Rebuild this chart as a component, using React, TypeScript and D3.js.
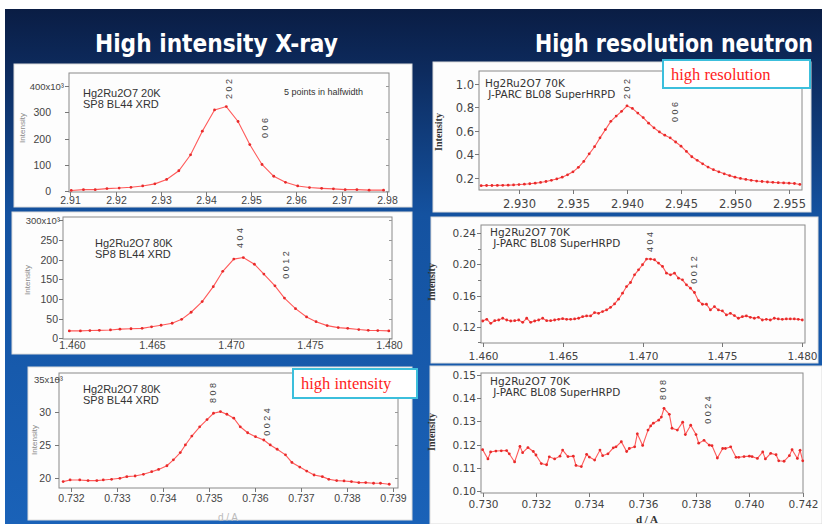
import { useEffect, useRef } from "react";
import * as d3 from "d3";

type Pt = [number, number];

// ---- peak profiles: d (Å), intensity ----
// X-ray, SP8 BL44, 20 K, 202 / 006 (10^3 counts)
const xray202: Pt[] = [
  [2.9102, 2], [2.9129, 5], [2.9155, 5], [2.9181, 9], [2.9208, 11], [2.9234, 14],
  [2.926, 19], [2.9287, 27], [2.9313, 44], [2.934, 77], [2.9366, 138], [2.9392, 228],
  [2.9419, 309], [2.9445, 322], [2.9471, 265], [2.9497, 177], [2.9524, 101], [2.955, 56],
  [2.9576, 33], [2.9603, 19], [2.9629, 13], [2.9656, 10], [2.9682, 8], [2.9708, 5],
  [2.9734, 5], [2.9761, 3], [2.9793, 3],
];

// neutron, J-PARC BL08 SuperHRPD, 70 K, 202 / 006
const neutron202: Pt[] = [
  [2.9265, 0.135], [2.927, 0.136], [2.9275, 0.136], [2.928, 0.137], [2.9285, 0.138],
  [2.929, 0.139], [2.9295, 0.141], [2.93, 0.144], [2.9305, 0.147], [2.931, 0.151],
  [2.9315, 0.156], [2.932, 0.162], [2.9325, 0.17], [2.933, 0.18], [2.9335, 0.192],
  [2.934, 0.207], [2.9345, 0.227], [2.935, 0.252], [2.9355, 0.29], [2.936, 0.34],
  [2.9365, 0.405], [2.937, 0.465], [2.9375, 0.54], [2.938, 0.61], [2.9385, 0.68],
  [2.939, 0.725], [2.9395, 0.765], [2.94, 0.812], [2.9405, 0.79], [2.941, 0.75],
  [2.9415, 0.712], [2.942, 0.665], [2.9425, 0.625], [2.943, 0.59], [2.9435, 0.563],
  [2.944, 0.54], [2.9445, 0.505], [2.945, 0.47], [2.9455, 0.425], [2.946, 0.38],
  [2.9465, 0.35], [2.947, 0.32], [2.9475, 0.292], [2.948, 0.27], [2.9485, 0.252],
  [2.949, 0.235], [2.9495, 0.22], [2.95, 0.207], [2.9505, 0.196], [2.951, 0.188],
  [2.9515, 0.18], [2.952, 0.174], [2.9525, 0.17], [2.953, 0.166], [2.9535, 0.163],
  [2.954, 0.16], [2.9545, 0.158], [2.955, 0.156], [2.9555, 0.153], [2.956, 0.145],
];

// X-ray, 80 K, 404 / 0012 (10^3 counts)
const xray404: Pt[] = [
  [1.4598, 18.6], [1.4605, 18.6], [1.4611, 19.5], [1.4617, 20], [1.4624, 21], [1.463, 23],
  [1.4637, 24], [1.4644, 25], [1.465, 29], [1.4656, 33], [1.4663, 38], [1.4669, 48],
  [1.4675, 66], [1.4682, 93], [1.4689, 131], [1.4695, 170], [1.4702, 201], [1.4708, 205],
  [1.4715, 188], [1.4721, 163], [1.4728, 133], [1.4734, 102], [1.4741, 75], [1.4748, 54],
  [1.4754, 42], [1.4761, 32], [1.4768, 27], [1.4774, 25], [1.4781, 22], [1.4787, 20],
  [1.4793, 19.5], [1.48, 18.6],
];

// neutron, 70 K, 404 / 0012
const neutron404: Pt[] = [
  [1.46, 0.1273], [1.46025, 0.1295], [1.4605, 0.1243], [1.46075, 0.1277], [1.461, 0.1286],
  [1.46125, 0.1308], [1.4615, 0.1286], [1.46175, 0.1273], [1.462, 0.1277], [1.46225, 0.1286],
  [1.4625, 0.1256], [1.46275, 0.1308], [1.463, 0.1256], [1.46325, 0.1273], [1.4635, 0.1286],
  [1.46375, 0.1308], [1.464, 0.1277], [1.46425, 0.1277], [1.4645, 0.1286], [1.46475, 0.1295],
  [1.465, 0.1303], [1.46525, 0.1295], [1.4655, 0.1295], [1.46575, 0.1299], [1.466, 0.1308],
  [1.46625, 0.1329], [1.4665, 0.1338], [1.46675, 0.1338], [1.467, 0.1381], [1.46725, 0.1372],
  [1.4675, 0.1394], [1.46775, 0.1415], [1.468, 0.1449], [1.46825, 0.1492], [1.4685, 0.1553],
  [1.46875, 0.163], [1.469, 0.1716], [1.46925, 0.1768], [1.4695, 0.1867], [1.46975, 0.1931],
  [1.47, 0.1996], [1.47025, 0.2069], [1.4705, 0.2069], [1.47075, 0.206], [1.471, 0.2017],
  [1.47125, 0.1974], [1.4715, 0.1888], [1.47175, 0.1867], [1.472, 0.1888], [1.47225, 0.1824],
  [1.4725, 0.1802], [1.47275, 0.1738], [1.473, 0.1695], [1.47325, 0.1639], [1.4735, 0.1535],
  [1.47375, 0.1488], [1.474, 0.1488], [1.47425, 0.1415], [1.4745, 0.1458], [1.47475, 0.1415],
  [1.475, 0.1402], [1.47525, 0.1351], [1.4755, 0.1372], [1.47575, 0.1342], [1.476, 0.1308],
  [1.47625, 0.1329], [1.4765, 0.1338], [1.47675, 0.132], [1.477, 0.1308], [1.47725, 0.132],
  [1.4775, 0.1286], [1.47775, 0.1295], [1.478, 0.1286], [1.47825, 0.1308], [1.4785, 0.1299],
  [1.47875, 0.1295], [1.479, 0.1299], [1.47925, 0.1299], [1.4795, 0.1299], [1.47975, 0.1295],
  [1.48, 0.1286],
];

// X-ray, 80 K, 808 / 0024 (10^3 counts)
const xray808: Pt[] = [
  [0.73184, 19.5], [0.73199, 19.75], [0.7322, 19.75], [0.73238, 19.65], [0.73257, 19.65],
  [0.73271, 19.75], [0.73289, 19.85], [0.73307, 20.0], [0.73322, 20.25], [0.7334, 20.35],
  [0.73358, 20.6], [0.73376, 21.0], [0.73391, 21.35], [0.73409, 21.9], [0.73423, 22.8],
  [0.73438, 23.9], [0.73449, 25.05], [0.73463, 26.4], [0.7348, 27.8], [0.73496, 28.9],
  [0.7351, 29.85], [0.73525, 30.1], [0.73539, 29.7], [0.73554, 29.1], [0.73568, 27.8],
  [0.73584, 26.9], [0.73601, 26.3], [0.73619, 25.8], [0.73633, 25.05], [0.73648, 24.4],
  [0.73666, 23.55], [0.7368, 22.4], [0.73697, 21.7], [0.73712, 21.1], [0.73728, 20.5],
  [0.73746, 20.25], [0.7376, 19.85], [0.73777, 19.65], [0.73793, 19.6], [0.73809, 19.5],
  [0.73825, 19.35], [0.7384, 19.35], [0.73857, 19.25], [0.73872, 19.25], [0.73891, 19.1],
];

// neutron, 70 K, 808 / 0024
const neutron808: Pt[] = [
  [0.73, 0.1178], [0.7302, 0.1138], [0.7303, 0.1168], [0.7305, 0.1172], [0.7307, 0.1173],
  [0.7309, 0.1174], [0.731, 0.116], [0.7312, 0.1125], [0.7314, 0.1192], [0.7315, 0.1165],
  [0.7317, 0.1187], [0.7319, 0.117], [0.732, 0.1155], [0.7322, 0.1118], [0.7324, 0.1113],
  [0.7325, 0.1147], [0.7327, 0.1138], [0.7329, 0.115], [0.733, 0.1176], [0.7332, 0.1148],
  [0.7334, 0.115], [0.7335, 0.111], [0.7337, 0.1105], [0.7339, 0.1158], [0.734, 0.1146],
  [0.7342, 0.1133], [0.7344, 0.1176], [0.7345, 0.1152], [0.7347, 0.116], [0.7349, 0.1186],
  [0.735, 0.119], [0.7352, 0.1212], [0.7354, 0.117], [0.7355, 0.1183], [0.7357, 0.119],
  [0.7358, 0.1246], [0.736, 0.1196], [0.7362, 0.1262], [0.7363, 0.128], [0.7364, 0.1292],
  [0.7366, 0.1305], [0.7367, 0.1318], [0.7368, 0.1356], [0.737, 0.133], [0.7371, 0.127],
  [0.7373, 0.1262], [0.7375, 0.1296], [0.7376, 0.1243], [0.7378, 0.1283], [0.738, 0.1243],
  [0.7381, 0.1206], [0.7383, 0.1218], [0.7385, 0.1197], [0.7386, 0.1195], [0.7388, 0.1142],
  [0.739, 0.1183], [0.7391, 0.1183], [0.7393, 0.119], [0.7395, 0.1145], [0.7396, 0.1145],
  [0.7398, 0.1148], [0.74, 0.115], [0.7401, 0.1148], [0.7403, 0.114], [0.7405, 0.1168],
  [0.7406, 0.1138], [0.7408, 0.1162], [0.741, 0.1156], [0.7411, 0.113], [0.7413, 0.1128],
  [0.7415, 0.1152], [0.7416, 0.1178], [0.7418, 0.114], [0.7419, 0.1175], [0.742, 0.113],
];

// ---- ticks ----
const ticksX202x = [2.91, 2.92, 2.93, 2.94, 2.95, 2.96, 2.97, 2.98];
const ticksY202x = [0, 100, 200, 300, 400];
const labelsY202x = ["0", "100", "200", "300", "400x10³"];
const ticksX202n = [2.93, 2.935, 2.94, 2.945, 2.95, 2.955];
const ticksY202n = [0.2, 0.4, 0.6, 0.8, 1.0];
const ticksX404 = [1.46, 1.465, 1.47, 1.475, 1.48];
const ticksY404x = [0, 50, 100, 150, 200, 250, 300];
const labelsY404x = ["0", "50", "100", "150", "200", "250", "300x10³"];
const ticksY404n = [0.12, 0.16, 0.2, 0.24];
const minorY404n = [0.1, 0.14, 0.18, 0.22];
const ticksX808x = [0.732, 0.733, 0.734, 0.735, 0.736, 0.737, 0.738, 0.739];
const ticksY808x = [20, 25, 30, 35];
const labelsY808x = ["20", "25", "30", "35x10³"];
const ticksX808n = [0.73, 0.732, 0.734, 0.736, 0.738, 0.74, 0.742];
const ticksY808n = [0.1, 0.11, 0.12, 0.13, 0.14, 0.15];

// ---- annotations ----
const xrayInfo20 = ["Hg2Ru2O7 20K", "SP8 BL44 XRD"];
const xrayInfo80 = ["Hg2Ru2O7 80K", "SP8 BL44 XRD"];
const neutronInfo70 = ["Hg2Ru2O7 70K", " J-PARC BL08 SuperHRPD"];
const refl202x = [{ hkl: "2 0 2", d: 2.9451 }, { hkl: "0 0 6", d: 2.9531 }];
const refl202n = [{ hkl: "2 0 2", d: 2.94 }, { hkl: "0 0 6", d: 2.9444 }];
const refl404x = [{ hkl: "4 0 4", d: 1.47057 }, { hkl: "0 0 1 2", d: 1.47347 }];
const refl404n = [{ hkl: "4 0 4", d: 1.47047 }, { hkl: "0 0 1 2", d: 1.47322 }];
const refl808x = [{ hkl: "8 0 8", d: 0.73509 }, { hkl: "0 0 2 4", d: 0.73626 }];
const refl808n = [{ hkl: "8 0 8", d: 0.73676 }, { hkl: "0 0 2 4", d: 0.73845 }];

const SANS = "'Liberation Sans', Arial, sans-serif";
const DEJA = "'DejaVu Sans', Verdana, sans-serif";
const SERIF = "'Liberation Serif', 'Times New Roman', serif";

export default function App() {
  const ref = useRef<SVGSVGElement>(null);

  useEffect(() => {
    const svg = d3.select(ref.current);
    svg.selectAll("*").remove();

    const defs = svg.append("defs");
    const grad = defs.append("linearGradient").attr("id", "bg")
      .attr("x1", 0).attr("y1", 0).attr("x2", 0).attr("y2", 1);
    grad.append("stop").attr("offset", "0").attr("stop-color", "#0a1d44");
    grad.append("stop").attr("offset", "0.12").attr("stop-color", "#0d2b5e");
    grad.append("stop").attr("offset", "0.4").attr("stop-color", "#1452a0");
    grad.append("stop").attr("offset", "1").attr("stop-color", "#1a62b8");

    svg.append("rect").attr("width", 822).attr("height", 524).attr("fill", "#fff");
    svg.append("rect").attr("x", 5).attr("y", 9).attr("width", 817).attr("height", 515)
      .attr("fill", "url(#bg)");

    // slide titles
    const titleFont = "'Comic Sans MS', 'DejaVu Sans', sans-serif";
    svg.append("text").attr("x", 95).attr("y", 52).attr("fill", "#fff")
      .attr("font-family", titleFont).attr("font-weight", "bold")
      .attr("font-size", 25).attr("textLength", 243).attr("lengthAdjust", "spacingAndGlyphs")
      .text("High intensity X-ray");
    svg.append("text").attr("x", 535).attr("y", 52).attr("fill", "#fff")
      .attr("font-family", titleFont).attr("font-weight", "bold")
      .attr("font-size", 25).attr("textLength", 278).attr("lengthAdjust", "spacingAndGlyphs")
      .text("High resolution neutron");

    const panels = [
      {
        data: xray202, box: [14, 64, 412, 207], frame: [69, 73, 389, 192],
        xd: [2.9097, 2.9805], yd: [-4, 450], xt: ticksX202x, xf: d3.format(".2f"),
        yt: ticksY202x, yl: labelsY202x, font: SANS, fs: 10.5, xlOff: 12, ylGap: 18, topEnd: -5,
        mirror: true, info: xrayInfo20, infoAt: [83, 97], infoFs: 11,
        refl: refl202x, reflY: [89, 128], ylab: [25, 128], serifLab: false,
      },
      {
        data: neutron202, box: [433, 62, 811, 212], frame: [479, 71, 802, 190],
        xd: [2.9263, 2.9562], yd: [0.098, 1.107], xt: ticksX202n, xf: d3.format(".3f"),
        yt: ticksY202n, yl: ticksY202n.map(d3.format(".1f")), font: DEJA, fs: 11.5, xlOff: 18, ylGap: 5, topEnd: -5,
        mirror: false, info: neutronInfo70, infoAt: [485, 87], infoFs: 10.5,
        refl: refl202n, reflY: [89, 112], ylab: [442, 132], serifLab: true,
      },
      {
        data: xray404, box: [12, 212, 412, 354], frame: [63, 217, 392, 339],
        xd: [1.4594, 1.4802], yd: [-2, 308], xt: ticksX404, xf: d3.format(".3f"),
        yt: ticksY404x, yl: labelsY404x, font: SANS, fs: 10.5, xlOff: 10, ylGap: 5, topEnd: -3,
        mirror: true, info: xrayInfo80, infoAt: [95, 247], infoFs: 11,
        refl: refl404x, reflY: [238, 265], ylab: [30, 280], serifLab: false,
      },
      {
        data: neutron404, box: [431, 217, 818, 363], frame: [481, 225, 805, 343],
        xd: [1.45989, 1.48017], yd: [0.099, 0.2507], xt: ticksX404, xf: d3.format(".3f"),
        yt: ticksY404n, yl: ticksY404n.map(d3.format(".2f")), minorY: minorY404n,
        font: DEJA, fs: 10.5, xlOff: 17, ylGap: 5, topEnd: -5,
        mirror: false, info: neutronInfo70, infoAt: [490, 236], infoFs: 10.5,
        refl: refl404n, reflY: [242, 270], ylab: [435, 282], serifLab: true,
      },
      {
        data: xray808, box: [28, 367, 412, 520], frame: [59, 373, 398, 488],
        xd: [0.73175, 0.7391], yd: [18.53, 35.95], xt: ticksX808x, xf: d3.format(".3f"),
        yt: ticksY808x, yl: labelsY808x, font: SANS, fs: 10.5, xlOff: 14, ylGap: 8, topEnd: 4,
        mirror: true, info: xrayInfo80, infoAt: [83, 393], infoFs: 11,
        refl: refl808x, reflY: [393, 422], ylab: [37, 440], serifLab: false,
      },
      {
        data: neutron808, box: [430, 366, 822, 524], frame: [481, 373, 803, 493],
        xd: [0.72994, 0.74201], yd: [0.09914, 0.15078], xt: ticksX808n, xf: d3.format(".3f"),
        yt: ticksY808n, yl: ticksY808n.map(d3.format(".2f")), font: DEJA, fs: 10.5, xlOff: 15, ylGap: 5, topEnd: -5,
        mirror: false, info: neutronInfo70, infoAt: [490, 385], infoFs: 10.5,
        refl: refl808n, reflY: [390, 410], ylab: [435, 432], serifLab: true,
      },
    ];

    panels.forEach((p) => {
      const [bx0, by0, bx1, by1] = p.box;
      const [fl, ft, fr, fb] = p.frame;
      const x = d3.scaleLinear().domain(p.xd).range([fl, fr]);
      const y = d3.scaleLinear().domain(p.yd).range([fb, ft]);
      const g = svg.append("g");

      g.append("rect").attr("x", bx0).attr("y", by0)
        .attr("width", bx1 - bx0).attr("height", by1 - by0)
        .attr("fill", "#fdfdfd").attr("stroke", "#dcdcdc");

      g.append("rect").attr("x", fl).attr("y", ft)
        .attr("width", fr - fl).attr("height", fb - ft)
        .attr("fill", "none").attr("stroke", "#8a8a8a");

      // y ticks
      p.yt.forEach((t, i) => {
        const yy = Math.round(y(t)) + 0.5;
        g.append("line").attr("x1", fl - 4).attr("x2", fl).attr("y1", yy).attr("y2", yy)
          .attr("stroke", "#777");
        if (p.mirror) {
          g.append("line").attr("x1", fr - 3).attr("x2", fr).attr("y1", yy).attr("y2", yy)
            .attr("stroke", "#999");
        }
        const lbl = p.yl[i];
        const isTop = lbl.includes("x10");
        g.append("text")
          .attr("x", isTop ? fl + p.topEnd : fl - p.ylGap)
          .attr("y", yy + p.fs * 0.36)
          .attr("text-anchor", "end")
          .attr("font-family", p.font).attr("font-size", isTop ? p.fs - 1 : p.fs)
          .attr("fill", "#444")
          .text(lbl);
      });
      (p.minorY || []).forEach((t: number) => {
        const yy = Math.round(y(t)) + 0.5;
        g.append("line").attr("x1", fl - 3).attr("x2", fl).attr("y1", yy).attr("y2", yy)
          .attr("stroke", "#777");
      });

      // x ticks
      p.xt.forEach((t) => {
        const xx = Math.round(x(t)) + 0.5;
        g.append("line").attr("x1", xx).attr("x2", xx).attr("y1", fb).attr("y2", fb + 4)
          .attr("stroke", "#777");
        g.append("text")
          .attr("x", xx).attr("y", fb + p.xlOff)
          .attr("text-anchor", "middle")
          .attr("font-family", p.font).attr("font-size", p.fs)
          .attr("fill", "#444")
          .text(p.xf(t));
      });

      // axis title
      g.append("text")
        .attr("transform", `translate(${p.ylab[0]},${p.ylab[1]}) rotate(-90)`)
        .attr("text-anchor", "middle")
        .attr("font-family", p.serifLab ? SERIF : SANS)
        .attr("font-weight", p.serifLab ? "bold" : "normal")
        .attr("font-size", p.serifLab ? 10 : 8)
        .attr("fill", p.serifLab ? "#333" : "#888")
        .text("Intensity");

      // profile
      const line = d3.line<Pt>().x((d) => x(d[0])).y((d) => y(d[1]));
      g.append("path").datum(p.data).attr("d", line)
        .attr("fill", "none").attr("stroke", "#ff5a5a").attr("stroke-width", 1.1);
      g.selectAll(".pt").data(p.data).enter().append("circle")
        .attr("cx", (d) => x(d[0])).attr("cy", (d) => y(d[1]))
        .attr("r", 1.4).attr("fill", "#e82a2a");

      // sample / instrument text
      p.info.forEach((s, i) => {
        g.append("text")
          .attr("x", p.infoAt[0]).attr("y", p.infoAt[1] + i * 11)
          .attr("font-family", p.font).attr("font-size", p.infoFs)
          .attr("fill", "#333")
          .style("white-space", "pre")
          .text(s);
      });

      // reflection tags
      p.refl.forEach((r, i) => {
        g.append("text")
          .attr("transform", `translate(${x(r.d) + 3},${p.reflY[i]}) rotate(-90)`)
          .attr("text-anchor", "middle")
          .attr("font-family", SANS).attr("font-size", 9)
          .attr("fill", "#444")
          .text(r.hkl);
      });
    });

    svg.append("text").attr("x", 284).attr("y", 95)
      .attr("font-family", SANS).attr("font-size", 9).attr("fill", "#333")
      .text("5 points in halfwidth");

    // axis titles at the bottom
    svg.append("text").attr("x", 228).attr("y", 521).attr("text-anchor", "middle")
      .attr("font-family", SANS).attr("font-size", 10).attr("fill", "#bbb")
      .text("d / A");
    svg.append("text").attr("x", 647).attr("y", 523).attr("text-anchor", "middle")
      .attr("font-family", SERIF).attr("font-weight", "bold").attr("font-size", 11).attr("fill", "#333")
      .text("d / A");

    // callouts
    const callouts = [
      { x: 663, y: 60, w: 147, h: 28, text: "high resolution" },
      { x: 293, y: 369, w: 124, h: 29, text: "high intensity" },
    ];
    callouts.forEach((c) => {
      svg.append("rect").attr("x", c.x).attr("y", c.y).attr("width", c.w).attr("height", c.h)
        .attr("fill", "#fff").attr("stroke", "#3cbfdc").attr("stroke-width", 2);
      svg.append("text").attr("x", c.x + 8).attr("y", c.y + 20)
        .attr("font-family", SERIF).attr("font-size", 16.5).attr("fill", "#ff1c1c")
        .text(c.text);
    });
  }, []);

  return (
    <svg ref={ref} width={822} height={524}
      style={{ position: "absolute", left: 0, top: 0 }} />
  );
}
